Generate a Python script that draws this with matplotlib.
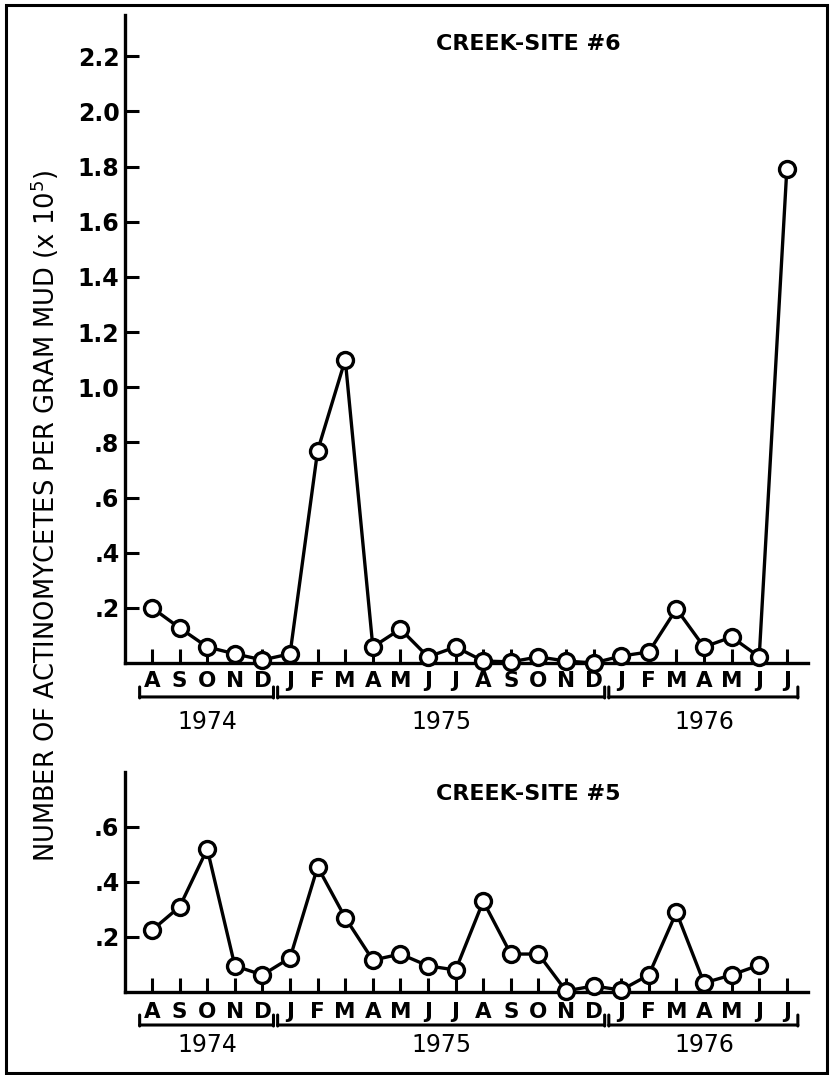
import numpy as np
import matplotlib.pyplot as plt
import matplotlib.transforms as mtransforms
from matplotlib.lines import Line2D
from matplotlib.patches import Rectangle

# months sampled, Aug 1974 .. Jul 1976
months = ['A', 'S', 'O', 'N', 'D',
          'J', 'F', 'M', 'A', 'M', 'J', 'J', 'A', 'S', 'O', 'N', 'D',
          'J', 'F', 'M', 'A', 'M', 'J', 'J']
years = ['1974', '1975', '1976']
year_spans = [(0, 4), (5, 16), (17, 23)]  # first/last month index of each year

# actinomycetes per gram mud (x 10^5)
site6 = [0.20, 0.127, 0.058, 0.033, 0.011,
         0.033, 0.77, 1.10, 0.058, 0.123, 0.022, 0.058, 0.007, 0.004, 0.022, 0.007, 0.0,
         0.025, 0.04, 0.196, 0.058, 0.094, 0.022, 1.79]
site5 = [0.225, 0.31, 0.52, 0.095, 0.062,
         0.124, 0.455, 0.27, 0.116, 0.138, 0.095, 0.08, 0.33, 0.138, 0.138, 0.004, 0.022,
         0.007, 0.062, 0.29, 0.033, 0.062, 0.098]

site6_ticks = [0.2, 0.4, 0.6, 0.8, 1.0, 1.2, 1.4, 1.6, 1.8, 2.0, 2.2]
site6_ticklabels = ['.2', '.4', '.6', '.8', '1.0', '1.2', '1.4', '1.6', '1.8', '2.0', '2.2']
site5_ticks = [0.2, 0.4, 0.6]
site5_ticklabels = ['.2', '.4', '.6']

plt.rcParams['font.family'] = ['DejaVu Sans']

fig = plt.figure(figsize=(8.34, 10.75), dpi=100)

# border round the whole figure
fig.patches.append(Rectangle((0.007, 0.002), 0.985, 0.993, transform=fig.transFigure,
                             fill=False, lw=2.2, ec='black'))

ax1 = fig.add_axes([0.1499, 0.3833, 0.819, 0.6028])
ax2 = fig.add_axes([0.1499, 0.0772, 0.819, 0.2047])


def px_down(ax, px):
    # x in data units, y = the axis line moved down by px pixels
    trans = mtransforms.blended_transform_factory(ax.transData, ax.transAxes)
    return trans + mtransforms.ScaledTranslation(0, -px / fig.dpi, fig.dpi_scale_trans)


def style(ax, ymax, ticks, ticklabels, values, title, title_y, month_off, bracket_off, year_off):
    ax.plot(np.arange(len(values)), values, color='black', lw=2.4,
            marker='o', ms=11.5, mfc='white', mec='black', mew=2.4, clip_on=False, zorder=3)
    ax.set_xlim(-0.98, 23.77)
    ax.set_ylim(0, ymax)
    for s in ['top', 'right']:
        ax.spines[s].set_visible(False)
    for s in ['left', 'bottom']:
        ax.spines[s].set_linewidth(2.4)
    ax.set_yticks(ticks)
    ax.set_yticklabels(ticklabels, fontsize=17, fontweight='bold')
    ax.tick_params(axis='y', direction='in', length=10, width=2.2, pad=4)

    # month letters as text so their offset can be set in pixels
    ax.set_xticks(np.arange(len(months)))
    ax.set_xticklabels([])
    ax.tick_params(axis='x', direction='in', length=10, width=2.2)
    for i, m in enumerate(months):
        ax.text(i, 0, m, transform=px_down(ax, month_off), ha='center', va='center',
                fontsize=15.5, fontweight='bold')

    ax.text(0.59, title_y, title, transform=ax.transAxes, ha='center', va='center',
            fontsize=16, fontweight='bold')

    # year brackets under the month letters
    for (a, b), yr in zip(year_spans, years):
        x0, x1 = a - 0.45, b + 0.4
        ax.annotate('', xy=(x0, 0), xycoords=px_down(ax, bracket_off),
                    xytext=(x1, 0), textcoords=px_down(ax, bracket_off),
                    arrowprops=dict(arrowstyle='-', lw=2.2, color='black',
                                    shrinkA=0, shrinkB=0))
        for xe in (x0, x1):
            ax.annotate('', xy=(xe, 0), xycoords=px_down(ax, bracket_off - 10),
                        xytext=(xe, 0), textcoords=px_down(ax, bracket_off + 1),
                        arrowprops=dict(arrowstyle='-', lw=2.2, color='black',
                                        shrinkA=0, shrinkB=0))
        ax.text((a + b) / 2, 0, yr, transform=px_down(ax, year_off),
                ha='center', va='center', fontsize=17)


style(ax1, 2.35, site6_ticks, site6_ticklabels, site6, 'CREEK-SITE #6', 0.955,
      month_off=18, bracket_off=34, year_off=59)
style(ax2, 0.80, site5_ticks, site5_ticklabels, site5, 'CREEK-SITE #5', 0.90,
      month_off=20, bracket_off=33, year_off=53)

fig.text(0.054, 0.52, 'NUMBER OF ACTINOMYCETES PER GRAM MUD (x 10$^5$)',
         rotation=90, ha='center', va='center', fontsize=18.5)

fig.savefig('out.png', dpi=100)
